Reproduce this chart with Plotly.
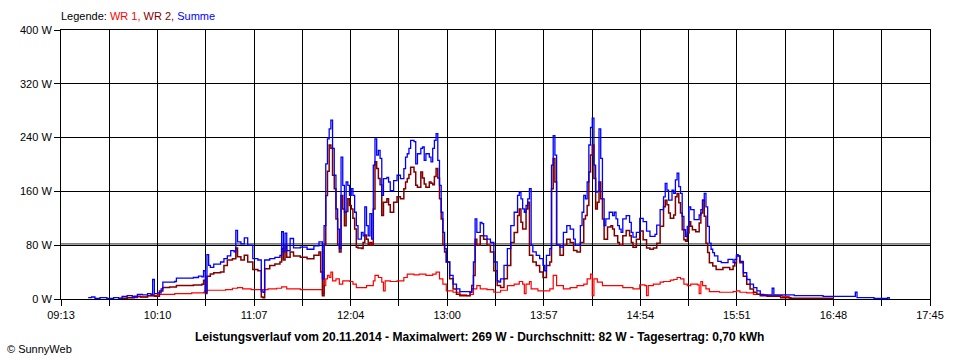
import plotly.graph_objects as go

# ---------------- data ----------------
SUMME_T = ["09:29","09:31","09:33","09:36","09:40","09:44","09:47","09:49","09:52","09:55","09:58","10:01","10:04","10:06","10:07","10:08","10:10","10:12","10:13","10:17","10:20","10:21","10:26","10:31","10:34","10:36","10:37","10:38","10:39","10:40","10:41","10:43","10:47","10:49","10:51","10:53","10:55","10:56","10:57","10:59","11:01","11:03","11:06","11:09","11:11","11:12","11:13","11:16","11:19","11:22","11:23","11:24","11:25","11:26","11:28","11:30","11:34","11:38","11:42","11:45","11:47","11:48","11:49","11:50","11:51","11:52","11:53","11:54","11:55","11:56","11:57","11:58","11:59","12:00","12:01","12:02","12:03","12:04","12:05","12:06","12:07","12:08","12:10","12:11","12:12","12:13","12:14","12:15","12:16","12:17","12:18","12:19","12:20","12:21","12:22","12:23","12:25","12:26","12:27","12:29","12:31","12:33","12:35","12:36","12:37","12:38","12:39","12:41","12:42","12:43","12:45","12:46","12:47","12:48","12:50","12:51","12:52","12:53","12:54","12:55","12:56","12:57","12:58","12:59","13:00","13:02","13:04","13:06","13:08","13:12","13:14","13:15","13:16","13:17","13:18","13:20","13:21","13:22","13:24","13:26","13:28","13:30","13:31","13:32","13:34","13:36","13:38","13:40","13:42","13:43","13:44","13:45","13:46","13:47","13:48","13:49","13:50","13:51","13:53","13:55","13:57","13:58","13:59","14:01","14:02","14:03","14:04","14:05","14:07","14:09","14:11","14:13","14:15","14:16","14:17","14:19","14:20","14:21","14:22","14:23","14:24","14:25","14:26","14:27","14:28","14:29","14:30","14:31","14:32","14:33","14:34","14:36","14:38","14:39","14:40","14:41","14:42","14:43","14:44","14:46","14:48","14:49","14:50","14:52","14:54","14:56","14:58","15:00","15:02","15:03","15:04","15:06","15:08","15:09","15:10","15:11","15:12","15:13","15:14","15:15","15:16","15:17","15:18","15:19","15:20","15:21","15:22","15:23","15:24","15:26","15:28","15:29","15:30","15:31","15:32","15:33","15:34","15:35","15:36","15:37","15:38","15:40","15:42","15:44","15:46","15:48","15:49","15:50","15:51","15:52","15:53","15:55","15:57","15:59","16:01","16:03","16:05","16:07","16:11","16:12","16:13","16:17","16:21","16:25","16:32","16:42","16:52","17:00","17:01","17:02","17:12","17:20","17:21"]
SUMME_W = [2,3,1,2,1,2,1,4,5,3,7,6,8,7,29,8,9,15,25,25,26,31,31,32,34,33,42,10,66,50,47,52,55,60,64,72,70,102,85,82,91,80,60,58,12,10,58,60,62,65,100,70,98,72,90,76,77,74,79,85,30,109,201,238,253,266,224,184,134,104,75,211,169,129,174,169,154,164,154,129,109,89,99,94,137,109,94,127,89,199,238,214,221,209,154,179,181,174,161,176,184,179,194,211,216,224,236,234,201,216,224,226,206,216,211,204,224,236,246,206,169,129,99,75,55,35,22,15,11,11,10,15,55,119,99,114,112,94,89,84,55,27,25,30,50,75,109,129,154,159,149,134,129,139,149,164,80,70,65,60,50,42,65,75,199,243,214,80,77,99,109,104,89,80,80,109,129,154,149,174,229,255,269,199,159,160,253,209,149,109,119,129,124,129,119,109,104,99,119,124,114,99,92,99,120,115,101,93,93,96,110,133,152,172,162,147,147,162,157,177,187,167,157,123,103,93,108,137,133,118,118,125,133,147,157,137,108,83,74,69,64,56,54,54,59,59,54,59,66,64,56,39,29,22,17,12,7,6,6,16,6,6,6,5,5,4,4,4,10,2,1,2,0]

WR2_T = ["09:48","09:52","09:56","10:00","10:04","10:07","10:08","10:10","10:11","10:13","10:17","10:21","10:26","10:31","10:36","10:37","10:38","10:39","10:41","10:43","10:47","10:49","10:51","10:54","10:56","10:57","10:59","11:01","11:03","11:06","11:09","11:11","11:12","11:13","11:16","11:19","11:22","11:23","11:24","11:25","11:26","11:28","11:30","11:34","11:38","11:42","11:45","11:46","11:47","11:48","11:49","11:50","11:51","11:52","11:53","11:54","11:55","11:56","11:57","11:58","11:59","12:00","12:01","12:02","12:03","12:04","12:05","12:06","12:07","12:08","12:10","12:11","12:12","12:13","12:14","12:15","12:16","12:17","12:18","12:19","12:20","12:21","12:22","12:23","12:25","12:26","12:27","12:29","12:31","12:33","12:35","12:36","12:37","12:38","12:39","12:41","12:42","12:43","12:45","12:46","12:47","12:48","12:50","12:51","12:52","12:53","12:54","12:55","12:56","12:57","12:58","12:59","13:00","13:02","13:04","13:06","13:08","13:12","13:14","13:15","13:16","13:17","13:18","13:20","13:22","13:24","13:26","13:28","13:30","13:32","13:34","13:36","13:38","13:40","13:42","13:43","13:44","13:45","13:47","13:48","13:49","13:51","13:53","13:55","13:57","13:59","14:01","14:02","14:03","14:04","14:05","14:07","14:09","14:11","14:13","14:15","14:17","14:19","14:21","14:22","14:23","14:24","14:25","14:26","14:27","14:28","14:29","14:30","14:31","14:32","14:33","14:35","14:37","14:38","14:39","14:41","14:42","14:44","14:46","14:48","14:49","14:50","14:52","14:54","14:56","14:58","15:00","15:02","15:04","15:06","15:08","15:09","15:10","15:11","15:12","15:14","15:15","15:16","15:17","15:18","15:19","15:20","15:21","15:22","15:23","15:24","15:25","15:27","15:29","15:30","15:31","15:32","15:33","15:34","15:35","15:37","15:39","15:41","15:43","15:45","15:47","15:49","15:50","15:51","15:53","15:55","15:57","15:59","16:01","16:03","16:05","16:09","16:13","16:17","16:23","16:32","16:44","16:48"]
WR2_W = [1,2,4,3,5,6,4,4,12,17,18,20,20,21,22,28,8,34,37,39,40,50,58,60,76,63,58,65,55,44,42,3,2,45,50,52,55,75,58,80,62,70,64,62,60,65,70,40,5,80,154,190,229,224,184,164,119,80,70,154,134,109,130,149,139,134,120,104,77,76,75,84,95,89,80,84,80,134,204,194,179,170,124,144,149,140,129,144,152,149,164,174,179,185,196,189,169,166,189,180,171,166,174,172,170,182,194,180,149,119,80,70,55,30,15,7,5,5,10,20,35,89,80,94,89,80,70,42,20,17,30,50,84,99,124,134,114,104,134,144,65,55,50,40,32,50,55,164,209,174,80,65,80,89,84,72,70,84,119,124,139,189,214,229,179,134,144,174,149,119,89,107,109,104,94,84,80,94,102,94,84,77,89,101,88,76,74,76,83,108,137,147,140,128,120,125,152,157,143,128,103,88,86,98,115,108,103,100,113,128,147,123,83,69,54,49,44,44,47,47,44,49,54,64,54,34,22,15,10,7,5,4,4,2,1,1,1,0]

WR1_T = ["09:47","09:52","09:58","10:04","10:08","10:10","10:20","10:30","10:37","10:38","10:45","10:50","10:54","10:57","11:00","11:05","11:10","11:15","11:20","11:23","11:26","11:30","11:34","11:40","11:45","11:47","11:48","11:49","11:50","11:51","11:52","11:53","11:55","11:57","11:59","12:01","12:03","12:05","12:07","12:09","12:13","12:15","12:17","12:18","12:20","12:22","12:23","12:24","12:27","12:31","12:33","12:35","12:37","12:41","12:44","12:48","12:52","12:54","12:56","12:58","13:00","13:04","13:08","13:12","13:14","13:16","13:18","13:20","13:24","13:28","13:32","13:36","13:40","13:43","13:45","13:46","13:47","13:49","13:50","13:54","13:58","14:01","14:03","14:05","14:09","14:13","14:17","14:21","14:23","14:25","14:26","14:27","14:29","14:32","14:38","14:44","14:50","14:54","14:57","14:58","14:59","15:02","15:06","15:08","15:10","15:12","15:14","15:16","15:18","15:20","15:22","15:24","15:26","15:28","15:29","15:30","15:31","15:33","15:35","15:37","15:41","15:45","15:49","15:51","15:53","15:57","16:01","16:05","16:09","16:13","16:18","16:22","16:23"]
WR1_W = [1,2,3,5,5,7,8,9,10,13,13,14,16,17,15,14,14,15,16,18,15,15,14,14,14,8,20,30,35,32,40,27,30,22,27,27,26,22,17,17,20,20,27,35,32,25,12,27,26,27,27,32,37,36,37,35,37,40,30,22,12,10,6,5,7,15,20,15,14,10,13,20,22,26,22,8,22,26,15,12,12,15,35,20,15,17,20,22,30,37,5,30,25,20,20,17,15,21,20,5,20,22,25,26,26,28,29,32,30,22,20,22,22,21,8,26,20,15,11,11,10,10,11,12,10,9,7,6,5,5,4,1,0]

AVERAGE_W = 82
X_TICK_LABELS = ["09:13","10:10","11:07","12:04","13:00","13:57","14:54","15:51","16:48","17:45"]
Y_TICKS = [0, 80, 160, 240, 320, 400]
Y_UNIT = "W"
LEGEND_NAMES = ["WR 1", "WR 2", "Summe"]
TITLE = "Leistungsverlauf vom 20.11.2014 - Maximalwert: 269 W - Durchschnitt: 82 W - Tagesertrag: 0,70 kWh"
# -------------------------------------------------------------


def to_min(s):
    h, m = s.split(":")
    return int(h) * 60 + int(m)


x_start = to_min(X_TICK_LABELS[0])
x_end = to_min(X_TICK_LABELS[-1])
n_div = 2 * (len(X_TICK_LABELS) - 1)
tickvals = [x_start + i * (x_end - x_start) / n_div for i in range(n_div + 1)]
ticktext = [X_TICK_LABELS[i // 2] if i % 2 == 0 else "" for i in range(n_div + 1)]

FONT = "Liberation Sans, Arial, sans-serif"
RED, DARKRED, BLUE = "#FF0000", "#800000", "#0000FF"

fig = go.Figure()
fig.add_trace(go.Scatter(x=[to_min(t) for t in WR1_T], y=WR1_W, mode="lines",
                         line=dict(color=RED, width=1.2, shape="hv"), name=LEGEND_NAMES[0]))
fig.add_trace(go.Scatter(x=[to_min(t) for t in WR2_T], y=WR2_W, mode="lines",
                         line=dict(color=DARKRED, width=1.5, shape="hv"), name=LEGEND_NAMES[1]))
fig.add_trace(go.Scatter(x=[to_min(t) for t in SUMME_T], y=SUMME_W, mode="lines",
                         line=dict(color=BLUE, width=1.3, shape="hv"), name=LEGEND_NAMES[2]))

fig.add_hline(y=AVERAGE_W, line=dict(color="#808080", width=1.6), layer="below")

fig.update_layout(
    width=960, height=360,
    margin=dict(l=61, r=30, t=30, b=61),
    paper_bgcolor="white", plot_bgcolor="white",
    showlegend=False,
    font=dict(family=FONT, size=11, color="black"),
    xaxis=dict(range=[x_start, x_end], tickvals=tickvals, ticktext=ticktext,
               showgrid=True, gridcolor="black", gridwidth=1,
               showline=True, linecolor="black", linewidth=1, mirror=True,
               ticks="outside", ticklen=6, tickcolor="black", zeroline=False,
               tickfont=dict(family=FONT, size=11, color="black")),
    yaxis=dict(range=[0, 400], tickvals=Y_TICKS,
               ticktext=[f"{v} {Y_UNIT}" for v in Y_TICKS],
               showgrid=True, gridcolor="black", gridwidth=1,
               showline=True, linecolor="black", linewidth=1, mirror=True,
               ticks="outside", ticklen=6, tickcolor="black", zeroline=False,
               tickfont=dict(family=FONT, size=11, color="black")),
)

legend_text = ("Legende: "
               f"<span style='color:{RED}'>{LEGEND_NAMES[0]},</span> "
               f"<span style='color:{DARKRED}'>{LEGEND_NAMES[1]},</span> "
               f"<span style='color:{BLUE}'>{LEGEND_NAMES[2]}</span>")
fig.add_annotation(text=legend_text, xref="paper", yref="paper", x=0, y=1.052,
                   xanchor="left", yanchor="middle", showarrow=False, xshift=-2,
                   font=dict(family=FONT, size=11, color="black"))
fig.add_annotation(text=f"<b>{TITLE}</b>", xref="paper", yref="paper", x=0.482, y=-0.141,
                   xanchor="center", yanchor="middle", showarrow=False,
                   font=dict(family=FONT, size=12, color="black"))
fig.add_annotation(text="© SunnyWeb", xref="paper", yref="paper", x=-0.0644, y=-0.186,
                   xanchor="left", yanchor="middle", showarrow=False,
                   font=dict(family=FONT, size=11, color="black"))

fig.write_html("out.html", config={"displayModeBar": False},
               post_script="document.body.style.margin='0';")
